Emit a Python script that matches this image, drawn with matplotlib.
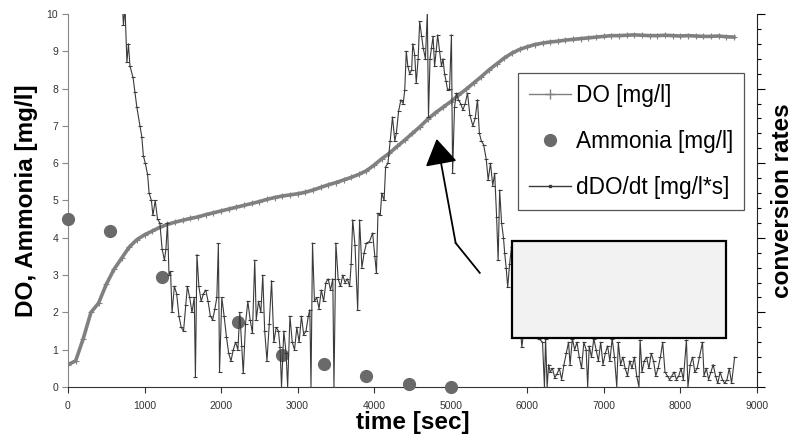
import matplotlib
matplotlib.use("Agg")
import matplotlib.pyplot as plt
from matplotlib.patches import Rectangle
from matplotlib.lines import Line2D

plt.rcParams["font.family"] = ["Liberation Sans", "DejaVu Sans"]

# ===== DATA =====
# DO [mg/l], one reading every 100 s
do_time = list(range(0, 8800, 100))
do_val = [0.60, 0.70, 1.30, 2.00, 2.25, 2.75, 3.15, 3.45, 3.75, 3.95,
          4.08, 4.18, 4.28, 4.36, 4.42, 4.47, 4.52, 4.56, 4.62, 4.67,
          4.72, 4.77, 4.82, 4.87, 4.92, 4.97, 5.03, 5.08, 5.12, 5.15,
          5.18, 5.22, 5.28, 5.35, 5.42, 5.48, 5.55, 5.62, 5.70, 5.80,
          5.95, 6.12, 6.27, 6.45, 6.62, 6.80, 6.98, 7.18, 7.35, 7.50,
          7.65, 7.82, 7.98, 8.15, 8.32, 8.50, 8.66, 8.82, 8.95, 9.05,
          9.12, 9.18, 9.22, 9.25, 9.27, 9.30, 9.32, 9.34, 9.36, 9.38,
          9.40, 9.42, 9.42, 9.43, 9.44, 9.43, 9.42, 9.42, 9.43, 9.42,
          9.41, 9.42, 9.41, 9.40, 9.40, 9.41, 9.39, 9.38]

# Ammonia [mg/l]
nh4_time = [0, 550, 1225, 2220, 2790, 3345, 3900, 4455, 5010]
nh4_val = [4.50, 4.18, 2.95, 1.75, 0.86, 0.62, 0.30, 0.08, 0.00]

# dDO/dt (plotted on the unlabelled right axis)
rate_time = [
    700, 725, 745, 770, 790, 810, 850, 875, 900, 940, 965, 985, 1010, 1040,
    1060, 1090, 1110, 1140, 1170, 1200, 1230, 1260, 1280, 1300, 1320, 1340,
    1360, 1390, 1420, 1450, 1480, 1510, 1540, 1560, 1590, 1620, 1650, 1665,
    1685, 1710, 1740, 1770, 1800, 1830, 1860, 1890, 1920, 1945, 1965, 1980,
    2010, 2040, 2070, 2100, 2130, 2160, 2190, 2220, 2245, 2270, 2290, 2320,
    2350, 2380, 2410, 2440, 2460, 2490, 2520, 2545, 2570, 2600, 2630, 2660,
    2690, 2720, 2750, 2770, 2790, 2820, 2850, 2870, 2900, 2930, 2960, 2990,
    3020, 3050, 3080, 3110, 3140, 3160, 3175, 3195, 3220, 3250, 3280, 3310,
    3340, 3370, 3400, 3430, 3460, 3475, 3500, 3530, 3560, 3590, 3620, 3650,
    3680, 3700, 3720, 3750, 3785, 3810, 3840, 3870, 3900, 3940, 3980, 4010,
    4030, 4050, 4080, 4100, 4130, 4150, 4180, 4210, 4240, 4270, 4290, 4320,
    4350, 4380, 4400, 4420, 4440, 4465, 4490, 4505, 4530, 4550, 4575, 4595,
    4620, 4640, 4670, 4695, 4710, 4730, 4750, 4770, 4790, 4810, 4830, 4855,
    4880, 4900, 4920, 4940, 4960, 4985, 5010, 5025, 5050, 5075, 5100, 5130,
    5160, 5190, 5220, 5250, 5290, 5320, 5350, 5375, 5400, 5430, 5465, 5490,
    5520, 5550, 5575, 5600, 5620, 5640, 5665, 5690, 5705, 5725, 5745, 5770,
    5795, 5830, 5870, 5900, 5930, 5960, 6000, 6050, 6100, 6150, 6200, 6225,
    6240, 6260, 6280, 6300, 6330, 6360, 6390, 6420, 6450, 6480, 6510, 6540,
    6560, 6590, 6620, 6650, 6680, 6710, 6740, 6770, 6790, 6810, 6840, 6870,
    6900, 6930, 6960, 6990, 7020, 7050, 7080, 7110, 7140, 7170, 7190, 7220,
    7250, 7280, 7310, 7340, 7370, 7400, 7430, 7460, 7475, 7500, 7530, 7560,
    7590, 7620, 7650, 7680, 7710, 7740, 7770, 7800, 7830, 7860, 7890, 7920,
    7950, 7980, 8010, 8040, 8080, 8100, 8130, 8160, 8190, 8220, 8250, 8290,
    8310, 8340, 8370, 8400, 8430, 8460, 8490, 8520, 8550, 8580, 8610, 8640,
    8670, 8710]
rate_val = [
    10.6, 9.7, 10.2, 8.7, 9.2, 8.6, 8.3, 7.9, 7.5, 7.0, 6.7, 6.2, 6.0, 5.7,
    5.2, 5.0, 4.6, 5.0, 4.5, 4.4, 3.7, 3.4, 3.7, 4.4, 3.0, 3.1,
    2.0, 2.7, 2.5, 1.9, 1.6, 1.5, 2.2, 2.7, 2.4, 2.0, 2.4, 0.27,
    3.55, 2.7, 2.3, 2.5, 2.6, 2.3, 1.9, 1.8, 2.1, 2.4, 3.85, 0.4,
    2.4, 1.9, 1.35, 0.9, 0.7, 1.0, 1.2, 1.0, 2.0, 1.1, 0.37, 1.7,
    2.3, 1.8, 1.45, 3.4, 1.8, 2.3, 2.0, 3.0, 1.5, 0.7, 1.7, 2.85,
    1.2, 1.6, 1.5, 1.07, 0.0, 1.5, 0.9, 0.0, 1.9, 1.2, 1.0, 1.6,
    1.2, 1.9, 1.4, 1.5, 1.9, 2.07, 0.0, 3.86, 2.3, 2.4, 2.1, 2.6,
    2.3, 2.8, 2.9, 2.6, 2.9, 0.0, 3.86, 2.9, 2.7, 3.0, 2.8, 2.9,
    2.7, 3.3, 4.48, 3.8, 2.07, 4.48, 3.2, 3.6, 3.86, 3.9, 4.13, 3.5,
    3.05, 4.66, 4.6, 5.2, 5.0, 5.9, 6.0, 6.6, 7.24, 6.6, 6.8, 7.4,
    7.7, 7.6, 7.96, 9.0, 8.6, 8.4, 8.5, 9.2, 8.9, 8.15, 8.8, 9.8,
    9.4, 9.1, 8.8, 10.05, 7.24, 8.8, 9.1, 9.4, 8.6, 9.0, 9.44, 9.0,
    8.6, 8.8, 8.4, 8.2, 7.96, 8.0, 9.44, 5.73, 7.5, 7.88, 7.7, 7.6,
    7.43, 7.6, 7.88, 7.3, 7.0, 7.2, 7.7, 6.8, 6.6, 6.5, 6.1, 5.55,
    6.0, 5.4, 5.73, 4.56, 3.4, 5.28, 4.4, 4.0, 3.6, 3.2, 2.68, 3.3,
    3.75, 3.0, 2.4, 1.8, 1.07, 1.6, 1.4, 1.8, 1.5, 1.3, 1.2, 0.0,
    1.3, 0.0, 0.6, 0.4, 0.5, 0.25, 0.35, 0.5, 0.2, 0.6, 0.9, 1.2,
    0.6, 1.3, 1.0, 1.2, 0.8, 0.5, 1.2, 1.0, 0.0, 1.1, 0.8, 1.3,
    1.0, 0.7, 1.2, 0.6, 0.9, 1.1, 0.7, 1.3, 0.8, 0.0, 1.2, 0.6,
    0.8, 0.5, 0.3, 0.7, 0.5, 0.8, 0.3, 0.0, 1.26, 0.4, 0.7, 0.8,
    0.5, 0.9, 0.7, 0.3, 0.5, 0.8, 1.2, 0.4, 0.3, 0.2, 0.3, 0.4,
    0.2, 0.3, 0.5, 0.2, 1.26, 0.0, 0.6, 0.8, 0.4, 0.5, 0.8, 1.2,
    0.3, 0.5, 0.2, 0.4, 0.6, 0.3, 0.1, 0.4, 0.2, 0.1, 0.2, 0.5,
    0.1, 0.8]

x_ticks = list(range(0, 10000, 1000))
y_ticks = list(range(0, 11))

# arrow: tail, bend, tip (data coords)
arrow_path = [(5380, 3.06), (5065, 3.86), (4817, 6.65)]
# blank grey box (x0, y0, x1, y1)
box = (5796, 1.31, 8603, 3.91)

DO_COLOR = "#808080"
NH4_COLOR = "#6a6a6a"
RATE_COLOR = "#3a3a3a"


def main():
    fig = plt.figure(figsize=(7.95, 4.36), dpi=100)
    ax = fig.add_axes([0.0855, 0.1124, 0.8665, 0.8555])
    ax2 = ax.twinx()

    ax.set_xlim(0, 9000)
    ax.set_ylim(0, 10)
    ax2.set_ylim(0, 10)

    ax2.plot(rate_time, rate_val, color=RATE_COLOR, lw=0.8, marker="_",
             ms=3, mew=0.8, zorder=2)
    ax.plot(do_time, do_val, color=DO_COLOR, lw=2.6, marker="+",
            ms=4.5, mew=0.8, zorder=3)
    ax.plot(nh4_time, nh4_val, ls="none", marker="o", ms=8.5,
            color=NH4_COLOR, zorder=4, clip_on=False)

    # bent arrow
    ax2.plot([arrow_path[0][0], arrow_path[1][0]],
             [arrow_path[0][1], arrow_path[1][1]], color="black", lw=1.3, zorder=5)
    ax2.annotate("", xy=arrow_path[2], xytext=arrow_path[1],
                 arrowprops=dict(arrowstyle="-|>,head_length=0.45,head_width=0.28",
                                 mutation_scale=36, lw=1.3, color="black",
                                 shrinkA=0, shrinkB=0), zorder=5)

    ax2.add_patch(Rectangle((box[0], box[1]), box[2] - box[0], box[3] - box[1],
                            facecolor="#f1f2f1", edgecolor="black", lw=1.6, zorder=6))

    # axes styling
    ax.spines["top"].set_visible(False)
    ax2.spines["top"].set_visible(False)
    ax.spines["left"].set_color("#888888")
    ax.spines["bottom"].set_color("#333333")
    ax.spines["right"].set_visible(False)
    ax2.spines["left"].set_visible(False)
    ax2.spines["bottom"].set_visible(False)
    ax2.spines["right"].set_color("#222222")

    ax.set_xticks(x_ticks)
    ax.set_yticks(y_ticks)
    ax.tick_params(axis="both", labelsize=7.5, colors="#333333", length=4,
                   direction="out", width=0.8)
    ax.tick_params(axis="x", pad=6)
    ax.tick_params(axis="y", pad=3, color="#888888")
    ax2.set_yticks([0, 2, 4, 6, 8, 10])
    ax2.set_yticks([i * 0.4 for i in range(26)], minor=True)
    ax2.tick_params(axis="y", which="major", length=6, width=0.8, labelright=False)
    ax2.tick_params(axis="y", which="minor", length=3, width=0.8)

    ax.set_xlabel("time [sec]", fontsize=17.5, fontweight="bold", labelpad=0)
    ax.set_ylabel("DO, Ammonia [mg/l]", fontsize=17.5, fontweight="bold", labelpad=6)
    ax2.set_ylabel("conversion rates", fontsize=17.5, fontweight="bold", labelpad=4)

    # legend proxies (thin lines as in the original)
    handles = [
        Line2D([], [], color=DO_COLOR, lw=1.0, marker="+", ms=7, mew=1.0),
        Line2D([], [], color=NH4_COLOR, ls="none", marker="o", ms=8.5),
        Line2D([], [], color=RATE_COLOR, lw=1.0, marker="s", ms=2),
    ]
    leg = ax2.legend(handles, ["DO [mg/l]", "Ammonia [mg/l]", "dDO/dt [mg/l*s]"],
                     loc="upper left", bbox_to_anchor=(518 / 795, 1 - 73 / 436),
                     bbox_transform=fig.transFigure, fontsize=16.3, frameon=True,
                     fancybox=False, edgecolor="#555555", framealpha=1,
                     borderpad=0.5, labelspacing=1.0, handlelength=1.85,
                     handletextpad=0.2, borderaxespad=0)
    leg.get_frame().set_linewidth(0.9)
    leg.set_zorder(7)

    fig.savefig("out.png", dpi=100)


if __name__ == "__main__":
    main()
